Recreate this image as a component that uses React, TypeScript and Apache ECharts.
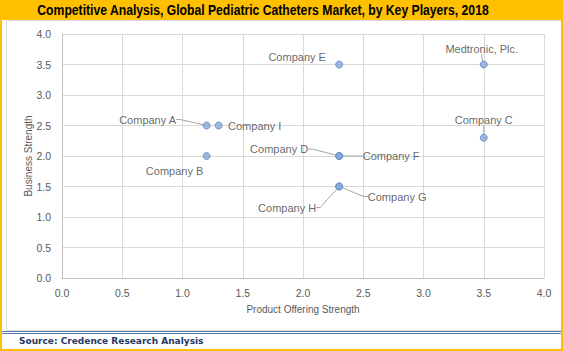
import React, { useEffect, useRef } from "react";
import * as echarts from "echarts";

const companies = [
  "Company A",
  "Company I",
  "Company B",
  "Company E",
  "Medtronic, Plc.",
  "Company C",
  "Company D",
  "Company F",
  "Company G",
  "Company H",
];
const productOffering = [1.2, 1.3, 1.2, 2.3, 3.5, 3.5, 2.3, 2.3, 2.3, 2.3];
const businessStrength = [2.5, 2.5, 2.0, 3.5, 3.5, 2.3, 2.0, 2.0, 1.5, 1.5];

// label placement (offset from point, px) and whether a leader line is drawn
const labelDx = [-59, 36, -32, -42, -2, 0, -60, 52, 58, -52];
const labelDy = [-6, 0, 15, -8, -16, -18, -7, 0, 10, 21];
const leader = [true, false, false, false, true, true, true, true, true, true];

const TITLE = "Competitive Analysis, Global Pediatric Catheters Market, by Key Players, 2018";
const SOURCE = "Source: Credence Research Analysis";
const X_NAME = "Product Offering Strength";
const Y_NAME = "Business Strength";

export default function App() {
  const ref = useRef<HTMLDivElement>(null);
  useEffect(() => {
    if (!ref.current) return;
    const chart = echarts.init(ref.current, null, { renderer: "svg" });
    const font = "'Liberation Sans', Arial, sans-serif";
    chart.setOption({
      animation: false,
      backgroundColor: "#FFFFFF",
      grid: { left: 62, right: 19, top: 34, bottom: 73 },
      xAxis: {
        type: "value",
        min: 0,
        max: 4,
        interval: 0.5,
        name: X_NAME,
        nameLocation: "middle",
        nameGap: 26,
        nameMoveOverlap: false,
        nameTextStyle: { fontFamily: font, fontSize: 10, color: "#595959" },
        axisLine: { show: true, lineStyle: { color: "#BFBFBF" } },
        axisTick: { show: false },
        axisLabel: {
          margin: 9,
          fontFamily: font,
          fontSize: 10.5,
          color: "#595959",
          formatter: (v: number) => v.toFixed(1),
        },
        splitLine: { show: true, lineStyle: { color: "#D9D9D9" } },
      },
      yAxis: {
        type: "value",
        min: 0,
        max: 4,
        interval: 0.5,
        name: Y_NAME,
        nameLocation: "middle",
        nameGap: 29,
        nameMoveOverlap: false,
        nameTextStyle: { fontFamily: font, fontSize: 10, color: "#595959" },
        axisLine: { show: true, lineStyle: { color: "#BFBFBF" } },
        axisTick: { show: false },
        axisLabel: {
          margin: 11,
          fontFamily: font,
          fontSize: 10.5,
          color: "#595959",
          formatter: (v: number) => v.toFixed(1),
        },
        splitLine: { show: true, lineStyle: { color: "#D9D9D9" } },
      },
      series: [
        {
          type: "scatter",
          symbol: "circle",
          symbolSize: 7,
          itemStyle: { color: "#85A8D8", borderColor: "#5B84C4", borderWidth: 1 },
          data: companies.map((name, i) => ({
            name,
            value: [productOffering[i], businessStrength[i]],
            labelLine: { show: leader[i] },
          })),
          label: {
            show: true,
            position: "inside",
            formatter: (p: any) => p.name,
            fontFamily: font,
            fontSize: 11,
            color: "#404040",
            padding: [1, 3],
          },
          labelLine: {
            show: true,
            length2: 4,
            minTurnAngle: 0,
            lineStyle: { color: "#A6A6A6", width: 1 },
          },
          labelLayout: (p: any) => ({ dx: labelDx[p.dataIndex], dy: labelDy[p.dataIndex] }),
          emphasis: { disabled: true },
        },
      ],
      graphic: [
        {
          type: "rect",
          shape: { x: 0, y: 0, width: 563, height: 20 },
          style: { fill: "#FFC000" },
          z: -10,
          silent: true,
        },
        {
          type: "text",
          x: 263,
          y: 10,
          scaleX: 0.87,
          style: {
            text: TITLE,
            fontFamily: font,
            fontSize: 14,
            fontWeight: "bold",
            fill: "#000000",
            textAlign: "center",
            textVerticalAlign: "middle",
          },
          silent: true,
        },
        {
          type: "rect",
          shape: { x: 6.5, y: 20.5, width: 555, height: 310 },
          style: { fill: "none", stroke: "#D9D9D9", lineWidth: 1 },
          z: -9,
          silent: true,
        },
        {
          type: "line",
          shape: { x1: 0, y1: 331.5, x2: 563, y2: 331.5 },
          style: { stroke: "#5A7FB5", lineWidth: 1 },
          silent: true,
        },
        {
          type: "line",
          shape: { x1: 0, y1: 333.5, x2: 563, y2: 333.5 },
          style: { stroke: "#5A7FB5", lineWidth: 1 },
          silent: true,
        },
        {
          type: "rect",
          shape: { x: 1, y: 1, width: 561, height: 349 },
          style: { fill: "none", stroke: "#FFC000", lineWidth: 2 },
          z: 10,
          silent: true,
        },
        {
          type: "text",
          x: 19,
          y: 341,
          style: {
            text: SOURCE,
            fontFamily: "'DejaVu Sans', Verdana, sans-serif",
            fontSize: 9,
            fontWeight: "bold",
            fill: "#1F3864",
            textVerticalAlign: "middle",
          },
          silent: true,
        },
      ],
    });
    return () => chart.dispose();
  }, []);
  return (
    <div
      ref={ref}
      style={{ position: "absolute", left: 0, top: 0, width: 563, height: 351 }}
    />
  );
}
